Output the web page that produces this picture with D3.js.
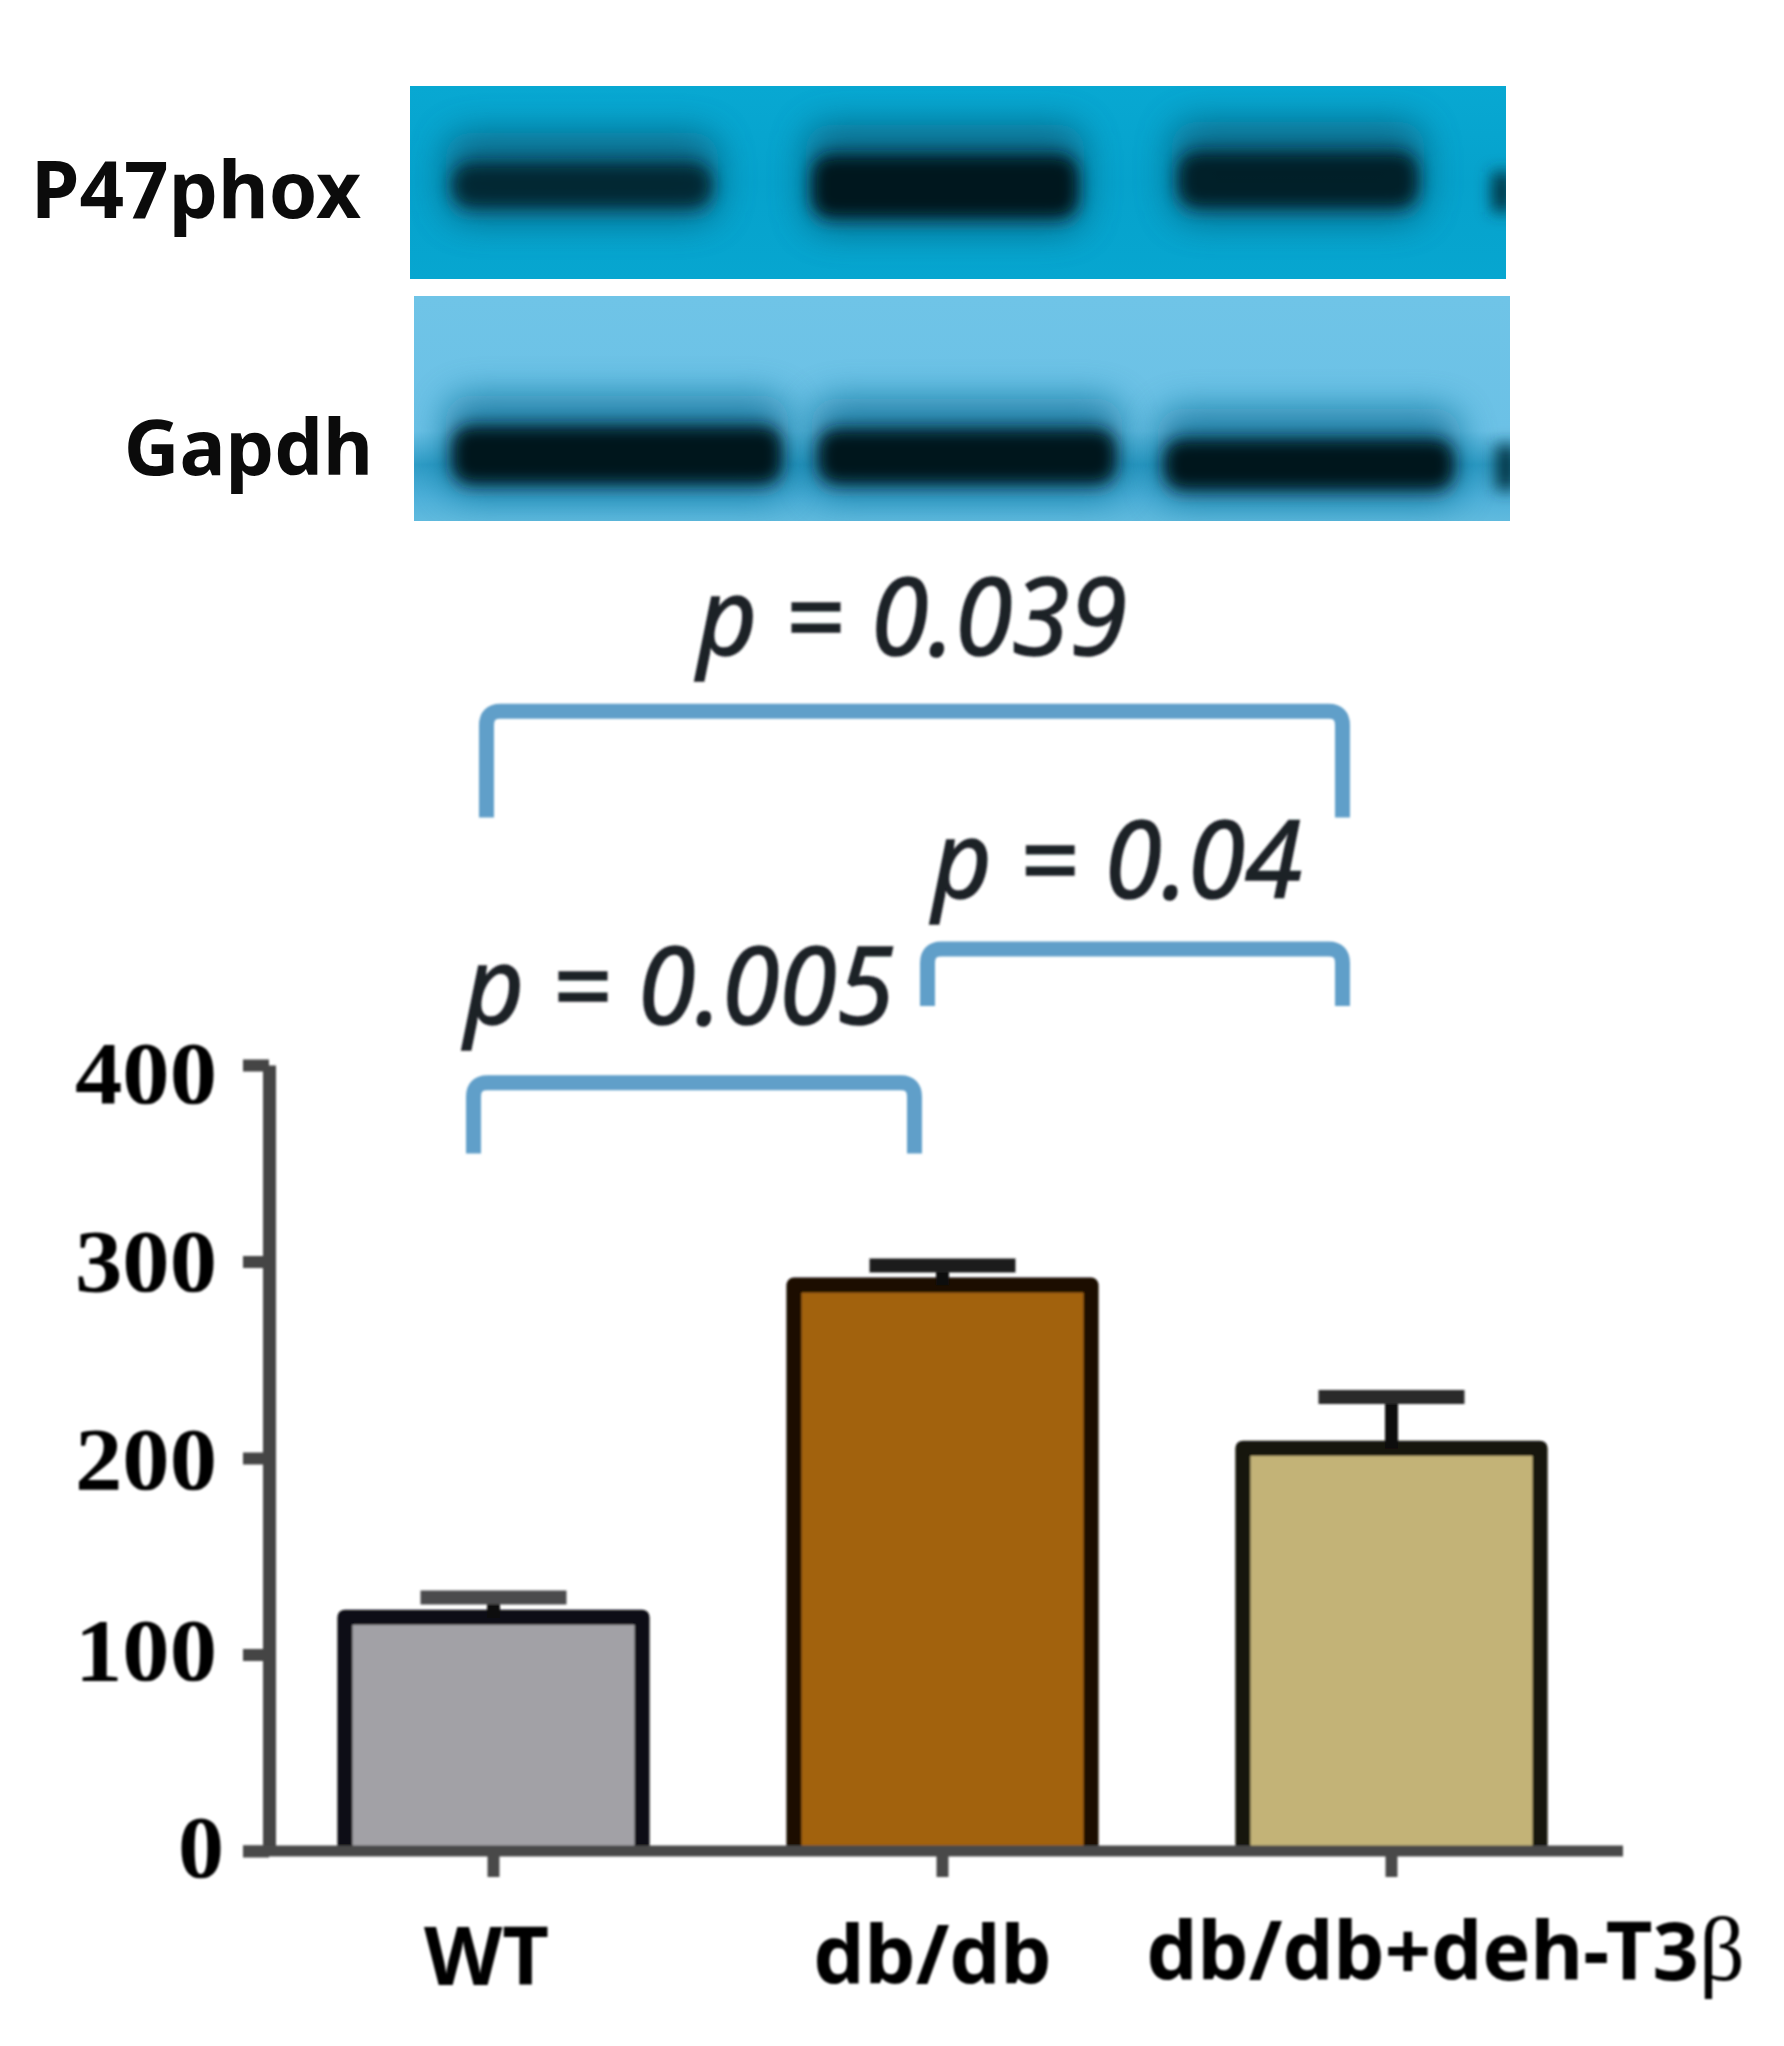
<!DOCTYPE html>
<html>
<head>
<meta charset="utf-8">
<script src="https://cdn.jsdelivr.net/npm/d3@7"></script>
<style>
  html, body { margin: 0; padding: 0; background: #fff; }
  svg { display: block; }
</style>
</head>
<body>
<div id="chart"></div>
<script>
// values
const groups = ["WT", "db/db", "db/db+deh-T3β"]
const means = [119, 288, 205]
const errors = [10, 10, 26]
const barColors = ["#a2a1a6", "#a2620e", "#c3b377"]
const barEdges = ["#101013", "#1a0d00", "#14120a"]
const capColors = ["#4c4c4e", "#1e1e1e", "#2c2c2c"]
const yTicks = [0, 100, 200, 300, 400]

// comparisons: from group, to group, label
const pLabels = ["p = 0.005", "p = 0.04", "p = 0.039"]
const pFrom = [0, 1, 0]
const pTo = [1, 2, 2]
const pTop = [391, 459, 580]
const pFoot = [355, 430, 526]

// blot band darkness per lane
const blotRows = ["P47phox", "Gapdh"]
const p47Density = [0.78, 0.98, 0.88]
const gapdhDensity = [1, 1, 1]

const svg = d3.select("#chart").append("svg")
  .attr("width", 1784)
  .attr("height", 2046)

const defs = svg.append("defs")

function blur(id, sd) {
  defs.append("filter")
    .attr("id", id)
    .attr("filterUnits", "userSpaceOnUse")
    .attr("x", 0).attr("y", 0).attr("width", 1784).attr("height", 2046)
    .append("feGaussianBlur")
    .attr("stdDeviation", sd)
}
blur("soft", 1.3)
blur("band", 8)
blur("halo", 18)

function gradient(id, stops) {
  const g = defs.append("linearGradient")
    .attr("id", id)
    .attr("x1", 0).attr("x2", 0).attr("y1", 0).attr("y2", 1)
  stops.forEach((s) => {
    g.append("stop").attr("offset", s[0]).attr("stop-color", s[1])
  })
}
gradient("blot1", [[0, "#08a8d2"], [0.5, "#06a2cc"], [1, "#07a6d0"]])
gradient("blot2", [[0, "#6fc4e7"], [0.6, "#6bc1e6"], [0.75, "#2f9cc6"], [0.9, "#4fb1da"], [1, "#60bade"]])

// western blot panels, laid out by hand from the lane positions
const panels = [
  {
    name: blotRows[0], density: p47Density, fill: "url(#blot1)",
    x: 410, y: 86, w: 1096, h: 193, labelX: 361, labelY: 218,
    bands: [[452, 712, 163, 208], [812, 1078, 155, 218], [1178, 1418, 152, 208]],
    halo: "#0b5a76", edge: [1492, 1512, 172, 212]
  },
  {
    name: blotRows[1], density: gapdhDensity, fill: "url(#blot2)",
    x: 414, y: 296, w: 1096, h: 225, labelX: 373, labelY: 475,
    bands: [[452, 782, 426, 484], [818, 1116, 429, 484], [1164, 1454, 439, 490]],
    halo: "#0d6f96", edge: [1496, 1516, 445, 490]
  }
]

panels.forEach((p, i) => {
  defs.append("clipPath").attr("id", "clip" + i)
    .append("rect")
    .attr("x", p.x).attr("y", p.y).attr("width", p.w).attr("height", p.h)

  const g = svg.append("g").attr("class", "blot")
  g.append("rect")
    .attr("x", p.x).attr("y", p.y).attr("width", p.w).attr("height", p.h)
    .attr("fill", p.fill)

  const inner = g.append("g").attr("clip-path", "url(#clip" + i + ")")
  p.bands.forEach((b, j) => {
    inner.append("rect")
      .attr("x", b[0] - 6).attr("y", b[2] - 30)
      .attr("width", b[1] - b[0] + 12).attr("height", b[3] - b[2] + 42)
      .attr("rx", 24)
      .attr("fill", p.halo)
      .attr("opacity", 0.8)
      .attr("filter", "url(#halo)")
    inner.append("rect")
      .attr("x", b[0]).attr("y", b[2])
      .attr("width", b[1] - b[0]).attr("height", b[3] - b[2])
      .attr("rx", 20)
      .attr("fill", "#04171d")
      .attr("opacity", p.density[j])
      .attr("filter", "url(#band)")
  })
  inner.append("rect")
    .attr("x", p.edge[0]).attr("y", p.edge[2])
    .attr("width", p.edge[1] - p.edge[0]).attr("height", p.edge[3] - p.edge[2])
    .attr("fill", "#06313f")
    .attr("filter", "url(#band)")

  svg.append("text")
    .attr("x", p.labelX).attr("y", p.labelY)
    .attr("text-anchor", "end")
    .attr("font-family", "'Noto Sans'")
    .attr("font-weight", 700)
    .attr("font-size", i == 0 ? 78 : 77)
    .attr("fill", "#0b0b0b")
    .text(p.name)
})

// bar chart
const x = d3.scaleBand()
  .domain(groups)
  .range([269, 1616])
  .paddingInner(0.338)
  .paddingOuter(0.169)

const y = d3.scaleLinear()
  .domain([0, 400])
  .range([1851, 1065])

const cx = (d) => x(d) + x.bandwidth() / 2

const chart = svg.append("g").attr("filter", "url(#soft)")

chart.selectAll(".bar")
  .data(groups)
  .enter().append("path")
  .attr("class", "bar")
  .attr("d", (d, i) => "M" + x(d) + "," + y(0) + "V" + y(means[i]) + "H" + (x(d) + x.bandwidth()) + "V" + y(0))
  .attr("fill", (d, i) => barColors[i])
  .attr("stroke", (d, i) => barEdges[i])
  .attr("stroke-width", 15)
  .attr("stroke-linejoin", "round")

chart.selectAll(".stem")
  .data(groups)
  .enter().append("line")
  .attr("class", "stem")
  .attr("x1", cx).attr("x2", cx)
  .attr("y1", (d, i) => y(means[i]))
  .attr("y2", (d, i) => y(means[i] + errors[i]))
  .attr("stroke", "#111")
  .attr("stroke-width", 13)

chart.selectAll(".cap")
  .data(groups)
  .enter().append("line")
  .attr("class", "cap")
  .attr("x1", (d) => cx(d) - 73).attr("x2", (d) => cx(d) + 73)
  .attr("y1", (d, i) => y(means[i] + errors[i]))
  .attr("y2", (d, i) => y(means[i] + errors[i]))
  .attr("stroke", (d, i) => capColors[i])
  .attr("stroke-width", 14)

// axes
const yAxis = chart.append("g")
  .attr("class", "y-axis")
  .attr("transform", "translate(269,0)")
  .call(d3.axisLeft(y).tickValues(yTicks).tickSize(26).tickSizeOuter(0).tickPadding(26))

const xAxis = chart.append("g")
  .attr("class", "x-axis")
  .attr("transform", "translate(0," + y(0) + ")")
  .call(d3.axisBottom(x).tickSize(26).tickSizeOuter(0).tickPadding(80))

// the x axis line runs past the band range on both sides
xAxis.select(".domain")
  .attr("d", "M243,0H1623")
  .attr("stroke", "#4a4a4a")
  .attr("stroke-width", 11)
xAxis.selectAll(".tick line")
  .attr("stroke", "#4a4a4a")
  .attr("stroke-width", 12)

yAxis.select(".domain")
  .attr("stroke", "#444")
  .attr("stroke-width", 13)
yAxis.selectAll(".tick line")
  .attr("stroke", "#444")
  .attr("stroke-width", 12)

// tick labels in the picture sit a little off their ticks
const yLabelShift = [-4, -4, 1, 0, 8]
yAxis.selectAll("text")
  .attr("dx", (d) => d == 0 ? 7 : 0)
  .attr("dy", (d, i) => yLabelShift[i] + 29)
  .attr("textLength", (d) => d == 0 ? 46 : 142)
  .attr("lengthAdjust", "spacingAndGlyphs")
  .attr("font-family", "'Liberation Serif'")
  .attr("font-weight", 700)
  .attr("font-size", 88)
  .attr("fill", "#050505")

const labelShift = [-7, -10, 54]
const labelLift = [0, -1, -5]
xAxis.selectAll("text")
  .attr("dx", (d, i) => labelShift[i])
  .attr("dy", (d, i) => 28 + labelLift[i])
  .attr("font-family", "'Noto Sans'")
  .attr("font-weight", 700)
  .attr("font-size", 81)
  .attr("fill", "#050505")

// the beta in the last label is a serif glyph
xAxis.selectAll("text")
  .filter((d) => d.endsWith("β"))
  .text((d) => d.slice(0, -1))
  .append("tspan")
  .attr("font-family", "'Liberation Serif'")
  .attr("font-weight", 400)
  .attr("font-size", 90)
  .text("β")

// brackets, the picture has them offset from the bar centres
const bracketLeft = [-20, -15, -7]
const bracketRight = [-28, -49, -49]
const labelX = [464, 932, 697]
const labelY = [1024, 898, 655]
const labelW = [430, 370, 430]

const bracketLine = (d, i) => {
  const l = cx(groups[pFrom[i]]) + bracketLeft[i]
  const r = cx(groups[pTo[i]]) + bracketRight[i]
  const p = d3.path()
  p.moveTo(l, y(pFoot[i]))
  p.lineTo(l, y(pTop[i]) + 14)
  p.quadraticCurveTo(l, y(pTop[i]), l + 14, y(pTop[i]))
  p.lineTo(r - 14, y(pTop[i]))
  p.quadraticCurveTo(r, y(pTop[i]), r, y(pTop[i]) + 14)
  p.lineTo(r, y(pFoot[i]))
  return p.toString()
}

const notes = svg.append("g").attr("filter", "url(#soft)")

notes.selectAll(".bracket")
  .data(pLabels)
  .enter().append("path")
  .attr("class", "bracket")
  .attr("d", bracketLine)
  .attr("fill", "none")
  .attr("stroke", "#609fc9")
  .attr("stroke-width", 15)

notes.selectAll(".p-label")
  .data(pLabels)
  .enter().append("text")
  .attr("class", "p-label")
  .attr("x", (d, i) => labelX[i])
  .attr("y", (d, i) => labelY[i])
  .attr("textLength", (d, i) => labelW[i])
  .attr("lengthAdjust", "spacingAndGlyphs")
  .attr("font-family", "'Noto Sans'")
  .attr("font-style", "italic")
  .attr("font-size", 108)
  .attr("fill", "#1d2026")
  .attr("stroke", "#1d2026")
  .attr("stroke-width", 1.5)
  .text((d) => d)
</script>
</body>
</html>
